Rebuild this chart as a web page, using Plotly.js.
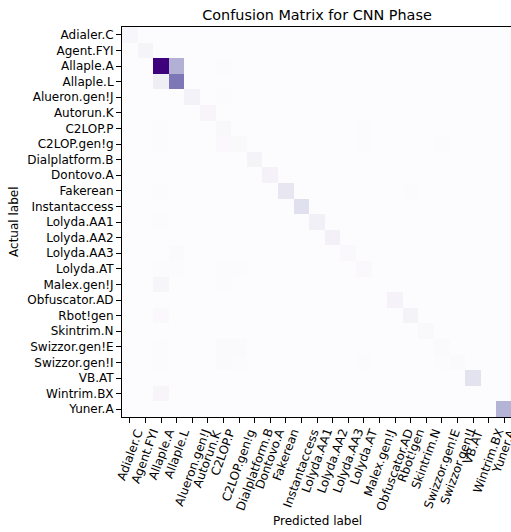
<!DOCTYPE html>
<html>
<head>
<meta charset="utf-8">
<script src="https://cdn.plot.ly/plotly-3.0.1.min.js"></script>
<style>
  html, body { margin: 0; padding: 0; background: #ffffff; overflow: hidden; }
  #chart { width: 512px; height: 532px; }
</style>
</head>
<body>
<div id="chart"></div>
<script>
// Malware family names, used for both actual (rows) and predicted (columns)
const labels = [
  "Adialer.C", "Agent.FYI", "Allaple.A", "Allaple.L", "Alueron.gen!J",
  "Autorun.K", "C2LOP.P", "C2LOP.gen!g", "Dialplatform.B", "Dontovo.A",
  "Fakerean", "Instantaccess", "Lolyda.AA1", "Lolyda.AA2", "Lolyda.AA3",
  "Lolyda.AT", "Malex.gen!J", "Obfuscator.AD", "Rbot!gen", "Skintrim.N",
  "Swizzor.gen!E", "Swizzor.gen!I", "VB.AT", "Wintrim.BX", "Yuner.A"
];

// Non-zero entries of the confusion matrix: [actual, predicted, count]
const nonZero = [
  ["Adialer.C", "Adialer.C", 26],
  ["Agent.FYI", "Agent.FYI", 38],
  ["Allaple.A", "Allaple.A", 600],
  ["Allaple.A", "Allaple.L", 250],
  ["Allaple.A", "C2LOP.P", 6],
  ["Allaple.L", "Allaple.A", 72],
  ["Allaple.L", "Allaple.L", 385],
  ["Alueron.gen!J", "Alueron.gen!J", 50],
  ["Alueron.gen!J", "C2LOP.P", 4],
  ["Autorun.K", "Autorun.K", 30],
  ["C2LOP.P", "Allaple.A", 8],
  ["C2LOP.P", "C2LOP.P", 24],
  ["C2LOP.P", "Lolyda.AT", 6],
  ["C2LOP.gen!g", "Allaple.A", 6],
  ["C2LOP.gen!g", "C2LOP.P", 14],
  ["C2LOP.gen!g", "C2LOP.gen!g", 16],
  ["C2LOP.gen!g", "Lolyda.AT", 6],
  ["C2LOP.gen!g", "Swizzor.gen!E", 6],
  ["Dialplatform.B", "Dialplatform.B", 44],
  ["Dontovo.A", "Dontovo.A", 46],
  ["Fakerean", "Allaple.A", 6],
  ["Fakerean", "Fakerean", 104],
  ["Fakerean", "Rbot!gen", 6],
  ["Instantaccess", "Instantaccess", 125],
  ["Lolyda.AA1", "Allaple.A", 6],
  ["Lolyda.AA1", "Lolyda.AA1", 60],
  ["Lolyda.AA2", "Lolyda.AA2", 52],
  ["Lolyda.AA3", "Allaple.L", 10],
  ["Lolyda.AA3", "Lolyda.AA3", 14],
  ["Lolyda.AT", "Allaple.A", 4],
  ["Lolyda.AT", "Allaple.L", 5],
  ["Lolyda.AT", "C2LOP.P", 6],
  ["Lolyda.AT", "C2LOP.gen!g", 6],
  ["Lolyda.AT", "Lolyda.AT", 14],
  ["Malex.gen!J", "Allaple.A", 34],
  ["Malex.gen!J", "C2LOP.P", 5],
  ["Obfuscator.AD", "Obfuscator.AD", 42],
  ["Rbot!gen", "Allaple.A", 14],
  ["Rbot!gen", "Rbot!gen", 44],
  ["Skintrim.N", "Skintrim.N", 18],
  ["Swizzor.gen!E", "Allaple.A", 5],
  ["Swizzor.gen!E", "C2LOP.P", 12],
  ["Swizzor.gen!E", "C2LOP.gen!g", 9],
  ["Swizzor.gen!E", "Swizzor.gen!E", 10],
  ["Swizzor.gen!I", "Allaple.A", 5],
  ["Swizzor.gen!I", "C2LOP.P", 10],
  ["Swizzor.gen!I", "C2LOP.gen!g", 8],
  ["Swizzor.gen!I", "Lolyda.AT", 8],
  ["Swizzor.gen!I", "Swizzor.gen!E", 8],
  ["Swizzor.gen!I", "Swizzor.gen!I", 10],
  ["VB.AT", "VB.AT", 118],
  ["Wintrim.BX", "Allaple.A", 30],
  ["Yuner.A", "Yuner.A", 244]
];

// Sequential purple colour map (ColorBrewer Purples)
const purples = [
  [0.000, "#fcfbfd"], [0.125, "#efedf5"], [0.250, "#dadaeb"],
  [0.375, "#bcbddc"], [0.500, "#9e9ac8"], [0.625, "#807dba"],
  [0.750, "#6a51a3"], [0.875, "#54278f"], [1.000, "#3f007d"]
];

// Dense matrix built from the sparse entries
const z = labels.map(() => labels.map(() => 0));
nonZero.forEach(([actual, predicted, n]) => {
  z[labels.indexOf(actual)][labels.indexOf(predicted)] = n;
});
const zMax = Math.max(...z.flat());

const trace = {
  type: "heatmap",
  x: labels,
  y: labels,
  z: z,
  zmin: 0,
  zmax: zMax,
  colorscale: purples,
  showscale: false,
  hoverinfo: "skip"
};

const font = { family: "DejaVu Sans, sans-serif", size: 12, color: "#000000" };

// Predicted-label tick texts, rotated and centred under each column
const xTickLabels = labels.map(name => ({
  x: name, xref: "x",
  y: 0, yref: "paper",
  xanchor: "center", yanchor: "top",
  yshift: -9,
  textangle: -70,
  text: name,
  showarrow: false,
  borderpad: 0,
  font: font
}));

const axisTitles = [
  {
    x: 0.5, xref: "paper", y: -0.2667, yref: "paper",
    xanchor: "center", yanchor: "middle",
    text: "Predicted label", showarrow: false, font: font
  },
  {
    x: -0.277, xref: "paper", y: 0.5, yref: "paper",
    xanchor: "center", yanchor: "middle", textangle: -90,
    text: "Actual label", showarrow: false, font: font
  }
];

const axisCommon = {
  type: "category",
  categoryorder: "array",
  categoryarray: labels,
  showgrid: false,
  zeroline: false,
  showline: true,
  mirror: true,
  linecolor: "#000000",
  linewidth: 1,
  ticks: "outside",
  ticklen: 5,
  tickwidth: 1,
  tickcolor: "#000000",
  fixedrange: true
};

const layout = {
  width: 512,
  height: 532,
  margin: { l: 122, r: 0, t: 27, b: 115, pad: 0 },
  paper_bgcolor: "#ffffff",
  plot_bgcolor: "#ffffff",
  font: font,
  title: {
    text: "Confusion Matrix for CNN Phase",
    font: { family: "DejaVu Sans, sans-serif", size: 14.4, color: "#000000" },
    x: 0.5, xref: "paper", xanchor: "center",
    y: 1 - 15 / 532, yref: "container", yanchor: "middle"
  },
  xaxis: Object.assign({}, axisCommon, {
    range: [-0.5, labels.length - 0.5],
    showticklabels: false
  }),
  yaxis: Object.assign({}, axisCommon, {
    range: [labels.length - 0.5, -0.5],
    tickfont: font
  }),
  annotations: xTickLabels.concat(axisTitles)
};

Plotly.newPlot("chart", [trace], layout, { displayModeBar: false, staticPlot: true });
</script>
</body>
</html>
